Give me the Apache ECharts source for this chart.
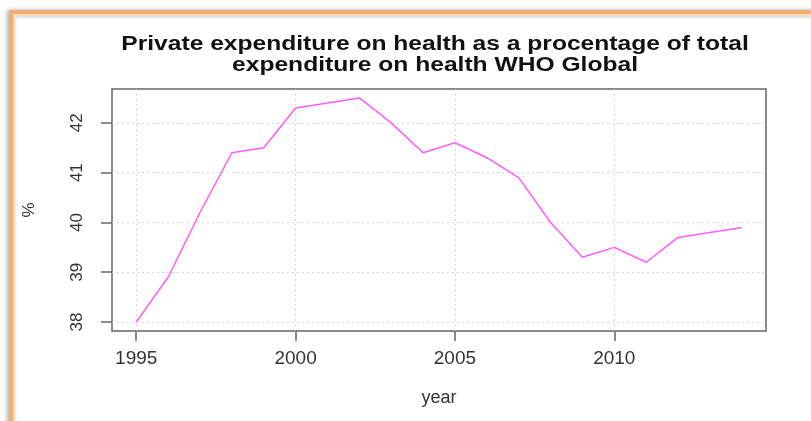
<!DOCTYPE html>
<html>
<head>
<meta charset="utf-8">
<script src="https://cdn.jsdelivr.net/npm/echarts@6/dist/echarts.min.js"></script>
<style>
  html, body { margin: 0; padding: 0; background: #fff; }
  #chart { width: 811px; height: 421px; }
</style>
</head>
<body>
<div id="chart"></div>
<script>
const years = [1995, 1996, 1997, 1998, 1999, 2000, 2001, 2002, 2003, 2004,
  2005, 2006, 2007, 2008, 2009, 2010, 2011, 2012, 2013, 2014];
const privateShare = [38.0, 38.9, 40.2, 41.4, 41.5, 42.3, 42.4, 42.5, 42.0, 41.4,
  41.6, 41.3, 40.9, 40.0, 39.3, 39.5, 39.2, 39.7, 39.8, 39.9];
const xTicks = [1995, 2000, 2005, 2010];
const yTicks = [38, 39, 40, 41, 42];
const titleLines = [
  'Private expenditure on health as a procentage of total',
  'expenditure on health WHO Global',
];

const chart = echarts.init(document.querySelector('#chart'));

const gridStyle = { color: '#d6d6d6', type: [2, 3], width: 1 };

// the screenshot is stretched sideways, so the title is widened to match
const titleText = (text, y) => ({
  type: 'text',
  x: 435,
  y: y,
  scaleX: 1.23,
  silent: true,
  style: {
    text: text,
    font: 'bold 20px "Liberation Sans"',
    fill: '#111',
    align: 'center',
    verticalAlign: 'middle',
  },
});

const option = {
  animation: false,
  graphic: [
    {
      type: 'rect',
      shape: { x: 12, y: 13, width: 900, height: 500 },
      style: {
        fill: 'none',
        stroke: '#f2ad74',
        lineWidth: 6,
        shadowBlur: 4,
        shadowColor: 'rgba(0,0,0,0.3)',
        shadowOffsetX: -2,
      },
      silent: true,
    },
    {
      type: 'rect',
      shape: { x: 14, y: 15, width: 900, height: 500 },
      style: { fill: 'none', stroke: '#fcd9b6', lineWidth: 2 },
      silent: true,
    },
    titleText(titleLines[0], 44),
    titleText(titleLines[1], 65),
  ],
  grid: {
    left: 112,
    right: 45,
    top: 89,
    bottom: 90,
    show: true,
    borderColor: '#666',
    borderWidth: 1.5,
  },
  xAxis: {
    type: 'value',
    min: 1994.24,
    max: 2014.76,
    name: 'year',
    nameLocation: 'middle',
    nameGap: 58,
    nameTextStyle: { fontFamily: 'Liberation Sans', fontSize: 18, color: '#333' },
    axisLine: { show: false },
    axisTick: { show: true, length: 10, customValues: xTicks, lineStyle: { color: '#666', width: 1.5 } },
    axisLabel: {
      customValues: xTicks,
      formatter: (v) => String(v),
      margin: 18,
      fontFamily: 'Liberation Sans',
      fontSize: 19,
      color: '#333',
    },
    splitLine: { show: false },
  },
  yAxis: {
    type: 'value',
    min: 37.82,
    max: 42.68,
    name: '%',
    nameLocation: 'middle',
    nameRotate: 90,
    nameGap: 74,
    nameTextStyle: { fontFamily: 'Liberation Sans', fontSize: 17, color: '#333' },
    axisLine: { show: false },
    axisTick: { show: true, length: 11, customValues: yTicks, lineStyle: { color: '#666', width: 1.5 } },
    axisLabel: {
      customValues: yTicks,
      rotate: 90,
      margin: 26,
      fontFamily: 'Liberation Sans',
      fontSize: 17,
      color: '#333',
    },
    splitLine: { show: false },
  },
  series: [
    {
      type: 'line',
      data: years.map((y, i) => [y, privateShare[i]]),
      showSymbol: false,
      lineStyle: { color: '#ff5cff', width: 1.5 },
      z: 3,
      markLine: {
        silent: true,
        symbol: 'none',
        label: { show: false },
        lineStyle: gridStyle,
        z: 1,
        data: xTicks.map((v) => ({ xAxis: v })).concat(yTicks.map((v) => ({ yAxis: v }))),
      },
    },
  ],
};

chart.setOption(option);

window.addEventListener('resize', () => chart.resize());
</script>
</body>
</html>
